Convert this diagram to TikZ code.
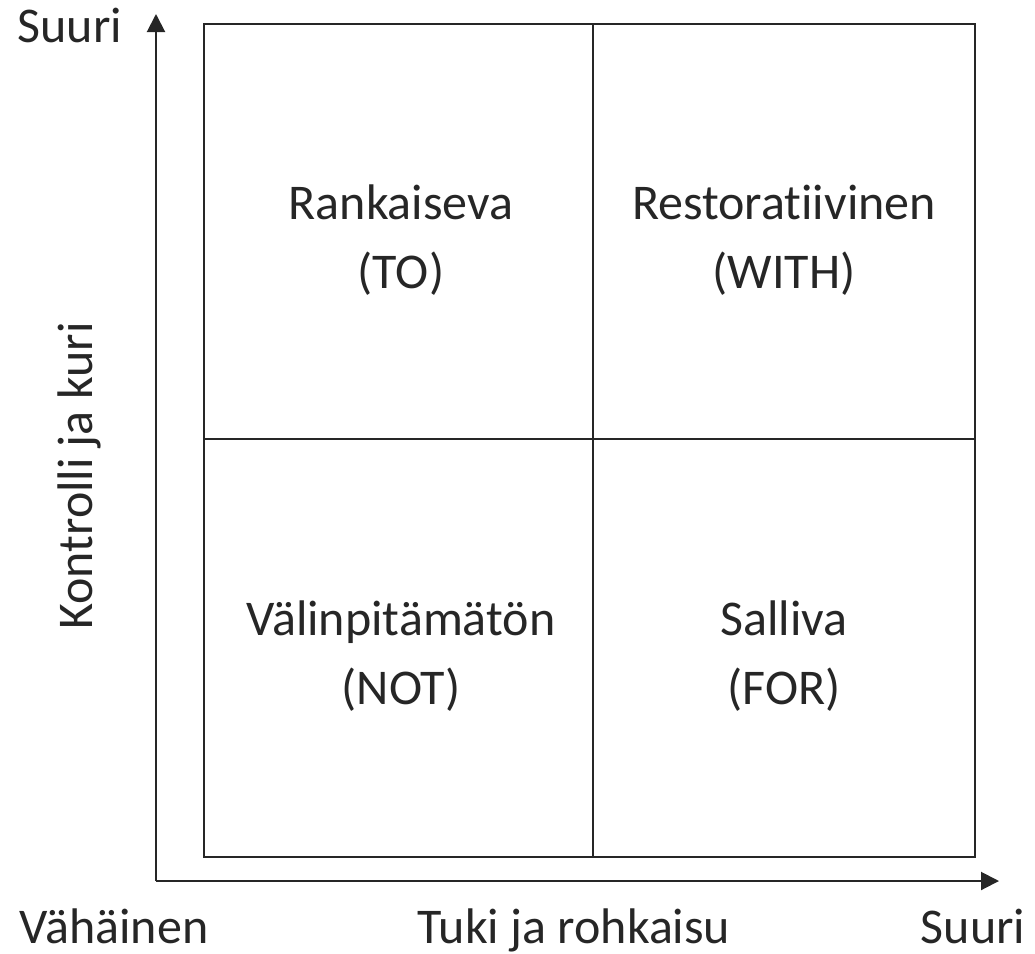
\documentclass[tikz,border=0pt]{standalone}
\usepackage{fontspec}
\setmainfont{Carlito}[RawFeature={-liga;-clig;-dlig;-calt}]
\usetikzlibrary{arrows.meta}
\begin{document}
\begin{tikzpicture}[x=1pt,y=-1pt,
  frame/.style={line width=2pt,draw=black!85},
  axis/.style={line width=2pt,draw=black!85,-{Triangle[length=18pt,width=18pt]}},
  lbl/.style={font=\fontsize{50}{69}\selectfont,text=black!85,inner sep=0pt,anchor=base},
  quad/.style={lbl,align=center},
  ]
\useasboundingbox (0,0) rectangle (1035,953);
% quadrant grid
\coordinate (tl) at (204,24);
\coordinate (br) at (975,857);
\draw[frame] (tl) rectangle (br);
\coordinate (mt) at (593,24);
\coordinate (mb) at (593,857);
\coordinate (ml) at (204,439);
\coordinate (mr) at (975,439);
\draw[frame] (mt) -- (mb);
\draw[frame] (ml) -- (mr);
% axes
\coordinate (o) at (156,881);
\coordinate (ytip) at (156,14);
\coordinate (xtip) at (999,881);
\draw[axis] (o) -- (ytip);
\draw[axis] (o) -- (xtip);
% quadrant labels (kern keeps "t" and "i" as separate glyphs)
\node[quad] (q1) at (401,288) {Rankaiseva\\(TO)};
\node[quad] (q2) at (784,288) {Restorat\kern0pt iivinen\\(WITH)};
\node[quad] (q3) at (401,704) {Välinpitämätön\\(NOT)};
\node[quad] (q4) at (784,704) {Salliva\\(FOR)};
% axis labels
\node[lbl] (ytop) at (70,42) {Suuri};
\node[lbl,rotate=90] (ylab) at (92,476) {Kontrolli ja kuri};
\node[lbl] (xlow) at (114,943) {Vähäinen};
\node[lbl] (xlab) at (574,943) {Tuki ja rohkaisu};
\node[lbl] (xhigh) at (973,943) {Suuri};
\end{tikzpicture}
\end{document}
